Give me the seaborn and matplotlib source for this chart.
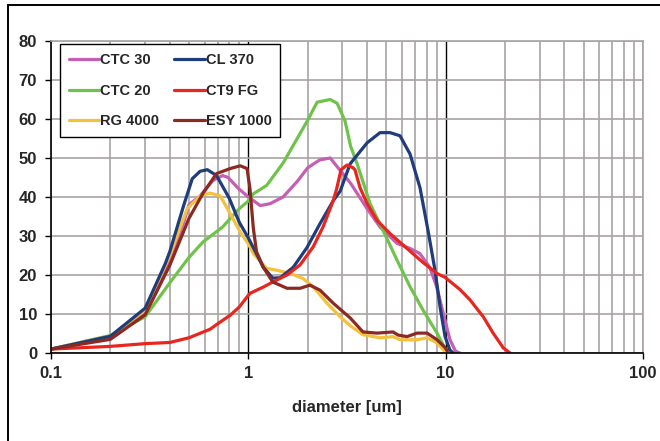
import numpy as np
import pandas as pd
import matplotlib
matplotlib.use("Agg")
import matplotlib.pyplot as plt
from matplotlib.lines import Line2D
from matplotlib.ticker import LogLocator, NullFormatter
import seaborn as sns

# particle size distributions (diameter in um, value)
ctc30_d = [0.1, 0.2, 0.3, 0.4, 0.47, 0.5, 0.57, 0.66, 0.74, 0.79, 0.89, 1.0, 1.15, 1.29, 1.5, 1.77, 2.0, 2.3,
           2.6, 2.9, 3.3, 4.0, 4.65, 5.67, 6.6, 7.4, 8.3, 9.0, 9.7, 10.5, 11.2, 11.8]
ctc30_v = [1.0, 4.0, 10.5, 23.5, 33.4, 38.0, 40.3, 44.2, 45.5, 45.0, 42.2, 40.0, 37.8, 38.3, 40.0, 44.0, 47.5, 49.5,
           50.0, 47.0, 43.5, 37.0, 32.3, 28.1, 26.8, 25.5, 22.0, 17.0, 10.4, 3.5, 0.5, 0.0]

ctc20_d = [0.1, 0.2, 0.3, 0.4, 0.5, 0.59, 0.74, 0.9, 1.0, 1.06, 1.24, 1.5, 2.0, 2.23, 2.6, 2.82, 3.09, 3.3, 3.56,
           4.14, 4.82, 5.67, 6.6, 7.68, 9.04, 10.2]
ctc20_v = [1.0, 4.5, 9.3, 18.0, 24.5, 28.5, 32.3, 37.0, 39.0, 40.8, 43.0, 48.7, 59.7, 64.3, 65.0, 64.0, 59.5, 53.0, 48.5,
           38.3, 31.4, 23.8, 17.0, 11.0, 5.1, 0.0]

rg4000_d = [0.1, 0.2, 0.3, 0.4, 0.49, 0.57, 0.64, 0.72, 0.81, 0.91, 1.0, 1.06, 1.24, 1.4, 1.63, 1.89, 2.13, 2.5,
            2.92, 3.28, 3.81, 4.65, 5.41, 5.87, 7.16, 8.05, 9.04, 9.7, 10.0]
rg4000_v = [1.0, 4.3, 11.0, 25.0, 37.0, 40.3, 41.0, 40.3, 35.7, 31.0, 28.0, 25.5, 21.7, 21.2, 20.4, 19.1, 17.0, 12.8,
            9.3, 7.0, 4.7, 3.9, 4.2, 3.4, 3.4, 3.9, 2.6, 0.9, 0.3]

cl370_d = [0.1, 0.2, 0.3, 0.38, 0.4, 0.47, 0.52, 0.57, 0.62, 0.69, 0.8, 0.9, 1.0, 1.06, 1.19, 1.33, 1.45, 1.69, 1.98,
           2.31, 2.69, 2.92, 3.28, 4.0, 4.65, 5.23, 5.87, 6.6, 7.41, 8.14, 8.83, 9.37, 9.93, 10.5, 10.9]
cl370_v = [1.0, 4.3, 11.5, 23.0, 26.0, 37.8, 44.7, 46.6, 47.0, 45.5, 39.7, 33.5, 29.5, 27.0, 22.0, 19.2, 19.3, 22.0,
           27.0, 33.2, 39.0, 41.5, 48.5, 53.9, 56.5, 56.5, 55.7, 51.0, 42.4, 31.4, 21.2, 11.8, 4.2, 0.8, 0.0]

ct9fg_d = [0.1, 0.2, 0.3, 0.4, 0.5, 0.64, 0.7, 0.81, 0.9, 1.0, 1.02, 1.19, 1.33, 1.57, 1.83, 2.13, 2.39, 2.69, 2.8,
           2.95, 3.16, 3.39, 3.47, 3.68, 4.0, 4.49, 5.23, 6.37, 7.68, 9.04, 9.93, 11.8, 13.3, 15.5, 17.4, 19.6, 21.2]
ct9fg_v = [1.0, 1.7, 2.4, 2.7, 3.9, 6.1, 7.5, 9.7, 11.8, 14.8, 15.3, 16.9, 18.2, 20.0, 22.6, 27.2, 32.3, 39.0, 42.0,
           47.0, 48.2, 47.5, 47.0, 42.4, 38.3, 34.0, 30.6, 26.8, 23.2, 20.4, 19.4, 16.3, 13.6, 9.3, 5.1, 1.3, 0.0]

esy1000_d = [0.1, 0.2, 0.3, 0.4, 0.5, 0.59, 0.69, 0.81, 0.91, 0.985, 1.02, 1.06, 1.1, 1.19, 1.33, 1.57, 1.83, 2.05,
             2.31, 2.69, 3.28, 3.81, 4.49, 5.41, 5.74, 6.37, 7.16, 8.05, 9.04, 9.93, 10.2]
esy1000_v = [1.0, 3.5, 9.8, 22.5, 34.5, 41.0, 46.0, 47.3, 48.0, 47.3, 42.0, 32.0, 26.0, 22.0, 18.2, 16.6, 16.6, 17.4,
             16.1, 12.8, 9.0, 5.4, 5.1, 5.4, 4.6, 4.2, 5.1, 5.1, 3.4, 1.4, 0.5]

series = [
    ("CTC 30", ctc30_d, ctc30_v, "#c45fb3"),
    ("CTC 20", ctc20_d, ctc20_v, "#6fc34c"),
    ("RG 4000", rg4000_d, rg4000_v, "#f4c13e"),
    ("CL 370", cl370_d, cl370_v, "#1f3c7c"),
    ("CT9 FG", ct9fg_d, ct9fg_v, "#e8261e"),
    ("ESY 1000", esy1000_d, esy1000_v, "#8c2a22"),
]

sns.set_theme(style="white")
plt.rcParams["font.family"] = ["Liberation Sans", "DejaVu Sans"]
plt.rcParams["font.weight"] = "bold"

fig = plt.figure(figsize=(6.6, 4.41), dpi=100)
ax = fig.add_axes([51 / 660, 1 - 353 / 441, 592 / 660, 312 / 441])

for name, d, v, col in series:
    df = pd.DataFrame({"diameter": d, "value": v})
    sns.lineplot(data=df, x="diameter", y="value", ax=ax, color=col, lw=2.3,
                 label=name, sort=False, estimator=None)

ax.set_xscale("log")
ax.set_xlim(0.1, 100)
ax.set_ylim(0, 80)
ax.set_xticks([0.1, 1, 10, 100])
ax.set_xticklabels(["0.1", "1", "10", "100"])
ax.xaxis.set_minor_locator(LogLocator(base=10, subs=np.arange(2, 10)))
ax.xaxis.set_minor_formatter(NullFormatter())
ax.set_yticks(range(0, 81, 10))

grid_col = "#a9a3a3"
ax.grid(which="minor", axis="x", color=grid_col, lw=1.2)
ax.grid(which="major", axis="both", color=grid_col, lw=1.2)
for tick in ax.xaxis.get_major_ticks():
    if tick.get_loc() in (1, 10):
        tick.gridline.set_color("black")
        tick.gridline.set_linewidth(1.0)
ax.set_axisbelow(True)

ax.tick_params(axis="both", which="major", labelsize=12, length=4, width=1, direction="out",
               color="black", bottom=True, left=True)
ax.tick_params(axis="x", which="major", pad=5)
ax.tick_params(axis="y", which="major", pad=6)
ax.tick_params(which="minor", length=0)
for lab in ax.get_xticklabels() + ax.get_yticklabels():
    lab.set_fontweight("bold")

for s in ["left", "bottom"]:
    ax.spines[s].set_color("black")
    ax.spines[s].set_linewidth(1.2)
for s in ["top", "right"]:
    ax.spines[s].set_color(grid_col)
    ax.spines[s].set_linewidth(1.2)

ax.set_xlabel("diameter [um]", fontsize=12, fontweight="bold", labelpad=14)
ax.set_ylabel("")

handles, labels = ax.get_legend_handles_labels()
leg = ax.legend(handles, labels, ncol=2, loc="upper left", bbox_to_anchor=(0.015, 0.99),
                borderaxespad=0, fontsize=10.5, frameon=True, fancybox=False, framealpha=1,
                edgecolor="black", handlelength=2.1, handletextpad=0.05, columnspacing=1.05,
                labelspacing=1.15, borderpad=0.6)
leg.get_frame().set_linewidth(1.0)
for t in leg.get_texts():
    t.set_fontweight("bold")

# outer chart frame (left and top edges)
fig.add_artist(Line2D([8 / 660, 8 / 660], [0, 1 - 5 / 441], transform=fig.transFigure, color="black", lw=1.4))
fig.add_artist(Line2D([8 / 660, 1], [1 - 5 / 441, 1 - 5 / 441], transform=fig.transFigure, color="black", lw=1.4))

fig.savefig("out.png", dpi=100)
